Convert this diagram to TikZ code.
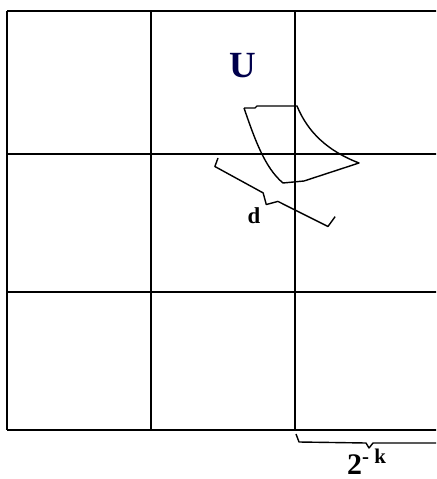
\documentclass[tikz,border=0pt]{standalone}
\usepackage{fontspec}
\setmainfont{Liberation Serif}
\begin{document}
\begin{tikzpicture}[x=0.02cm, y=-0.02cm,
        gridline/.style={line width=1.1pt},% cell borders
        region/.style={line width=0.8pt, line join=round},% the set U
        bracket/.style={line width=0.8pt, line join=round},% size marks
        tag/.style={font=\bfseries},% labels
    ]
    \useasboundingbox (0,0) rectangle (436,479);
    \clip (0,0) rectangle (436,479);

    % grid
    \foreach \gx in {7,151,295}
        \draw[gridline] (\gx,11) -- (\gx,430);
    \foreach \gy in {11,154,292,430}
        \draw[gridline] (7,\gy) -- (440,\gy);

    % the set U
    \draw[region] (244,108) -- (255,108) -- (257,106) -- (297,106)
        .. controls (305,125) and (320,148) .. (359,163)
        -- (304,181) -- (283,183)
        .. controls (265,168) and (255,140) .. (244,108);
    \node[tag, font=\bfseries\fontsize{21}{21}\selectfont, text=blue!30!black] (labelU) at (243,66) {U};

    % diameter d
    \begin{scope}[shift={(218,158)}, rotate=-26.6]
        \draw[bracket] (0,0) -- (1,9) -- (56,11) -- (64,20) -- (73,12) -- (129,12) -- (131,0);
    \end{scope}
    \node[tag, font=\bfseries\fontsize{13}{13}\selectfont] (labelD) at (254,216) {d};

    % side length of a cell
    \begin{scope}[shift={(296,434)}]
        \draw[bracket] (0,0) -- (3,8) -- (70,9) -- (73,14) -- (77,9) -- (150,9);
    \end{scope}
    \node[tag, font=\bfseries\fontsize{17}{17}\selectfont] (labelK) at (367,462) {2\textsuperscript{- k}};
\end{tikzpicture}
\end{document}
